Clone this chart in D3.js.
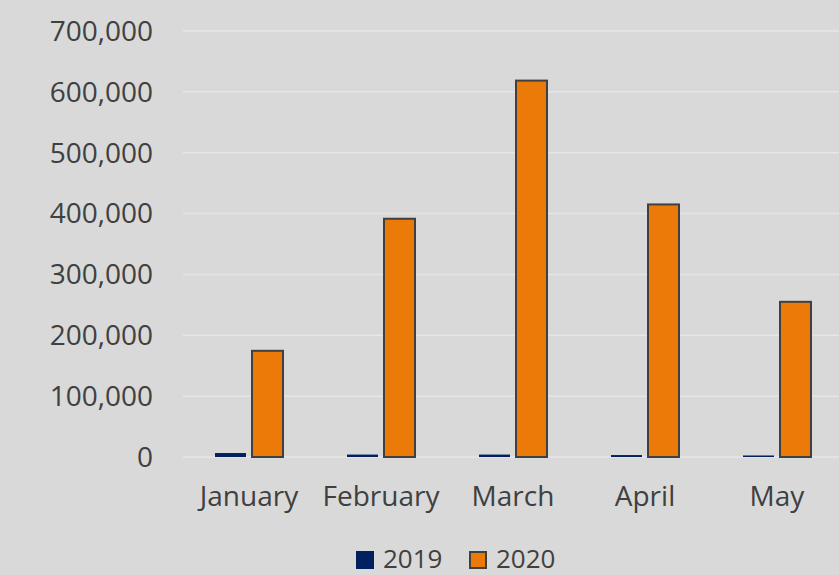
<!DOCTYPE html>
<html>
<head>
<meta charset="utf-8">
<script src="https://cdn.jsdelivr.net/npm/d3@7"></script>
<style>
  html, body { margin: 0; padding: 0; background: #d9d9d9; }
  svg { display: block; font-family: "Open Sans", sans-serif; }
</style>
</head>
<body>
<svg id="chart" width="839" height="575"></svg>
<script>
const months = ['January', 'February', 'March', 'April', 'May'];
const series = ['2019', '2020'];
const values2019 = [6500, 4000, 4000, 3200, 2500];
const values2020 = [174500, 391500, 618500, 415000, 255000];
const yTicks = [0, 100000, 200000, 300000, 400000, 500000, 600000, 700000];

const colors = {'2019': '#002060', '2020': '#ec7a08'};

const width = 839, height = 575;
const margin = {top: 31, right: -4, bottom: 118, left: 183};

const svg = d3.select('#chart');

const x = d3.scaleBand()
  .domain(months)
  .range([margin.left, width - margin.right]);

const y = d3.scaleLinear()
  .domain([0, 700000])
  .range([height - margin.bottom, margin.top]);

// gridlines
svg.append('g')
  .selectAll('line')
  .data(yTicks)
  .enter().append('line')
  .attr('x1', margin.left)
  .attr('x2', width)
  .attr('y1', d => y(d))
  .attr('y2', d => y(d))
  .attr('stroke', '#e6e6e6')
  .attr('stroke-width', 1.5);

// y labels
const fmt = d3.format(',');
svg.append('g')
  .selectAll('text')
  .data(yTicks)
  .enter().append('text')
  .attr('x', 153)
  .attr('y', d => y(d))
  .attr('dy', '0.35em')
  .attr('text-anchor', 'end')
  .attr('font-size', 28)
  .attr('fill', '#404040')
  .text(d => fmt(d));

const barW = 31, gap = 6;
const rows = months.map((m, i) => ({month: m, v2019: values2019[i], v2020: values2020[i]}));

// 2019 bars
svg.append('g')
  .selectAll('rect')
  .data(rows)
  .enter().append('rect')
  .attr('x', d => x(d.month) + x.bandwidth() / 2 - gap / 2 - barW)
  .attr('y', d => y(d.v2019))
  .attr('width', barW)
  .attr('height', d => y(0) - y(d.v2019))
  .attr('fill', colors['2019']);

// 2020 bars
svg.append('g')
  .selectAll('rect')
  .data(rows)
  .enter().append('rect')
  .attr('x', d => x(d.month) + x.bandwidth() / 2 + gap / 2)
  .attr('y', d => y(d.v2020))
  .attr('width', barW)
  .attr('height', d => y(0) - y(d.v2020))
  .attr('fill', colors['2020'])
  .attr('stroke', '#404040')
  .attr('stroke-width', 2);

// x labels
svg.append('g')
  .selectAll('text')
  .data(months)
  .enter().append('text')
  .attr('x', d => x(d) + x.bandwidth() / 2)
  .attr('y', 506)
  .attr('text-anchor', 'middle')
  .attr('font-size', 28)
  .attr('fill', '#404040')
  .text(d => d);

// legend
const legendX = [356, 469];
const legend = svg.append('g')
  .selectAll('g')
  .data(series)
  .enter().append('g')
  .attr('transform', (d, i) => `translate(${legendX[i]}, 551)`);

legend.append('rect')
  .attr('x', d => d === '2020' ? 1 : 0)
  .attr('y', d => d === '2020' ? 1 : 0)
  .attr('width', d => d === '2020' ? 16 : 18)
  .attr('height', d => d === '2020' ? 16 : 18)
  .attr('fill', d => colors[d])
  .attr('stroke', d => d === '2020' ? '#404040' : 'none')
  .attr('stroke-width', 2);

legend.append('text')
  .attr('x', 27)
  .attr('y', 17)
  .attr('font-size', 26)
  .attr('fill', '#404040')
  .text(d => d);
</script>
</body>
</html>
